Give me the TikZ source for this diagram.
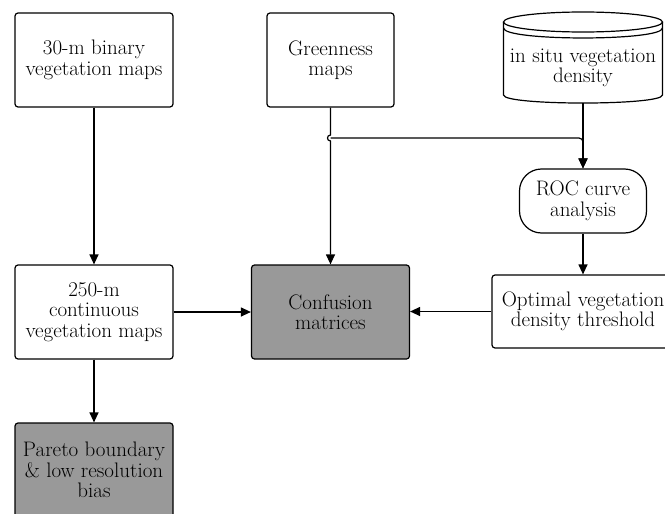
\documentclass[tikz,border=0pt]{standalone}
\usetikzlibrary{arrows.meta}
\definecolor{boxgray}{RGB}{153,153,153}
\begin{document}
\begin{tikzpicture}[x=1pt,y=-1pt,line width=1.2pt,
  txt/.style={align=center,inner sep=0pt,font=\fontsize{21}{20.5}\selectfont},
  box/.style={txt,draw,rounded corners=3pt},
  arr/.style={-{Triangle[length=10pt,width=9pt]}}]
\clip (0,0) rectangle (665,514);
% nodes
\node[box,minimum width=158pt,minimum height=94pt] (bin) at (94,60) {30-m binary\\vegetation maps};
\node[box,minimum width=127pt,minimum height=94pt] (green) at (330.5,60) {Greenness\\maps};
\node[txt] (cyl) at (583,68) {in situ vegetation\\density};
\node[box,rounded corners=22pt,minimum width=127pt,minimum height=64pt] (roc) at (583,201) {ROC curve\\analysis};
\node[box,minimum width=158pt,minimum height=94pt] (cont) at (94,312) {250-m\\continuous\\vegetation maps};
\node[box,fill=boxgray,minimum width=158pt,minimum height=94pt] (conf) at (330.5,312) {Confusion\\matrices};
\node[box,minimum width=182pt,minimum height=73pt] (opt) at (583,311.5) {Optimal vegetation\\density threshold};
\node[box,fill=boxgray,minimum width=158pt,minimum height=94pt] (pareto) at (94,470) {Pareto boundary\\\& low resolution\\bias};
% cylinder shape
\draw (583,22) ellipse [x radius=79.5, y radius=10];
\draw (503.5,22) -- (503.5,95) .. controls (503.5,105.7) and (662.5,105.7) .. (662.5,95) -- (662.5,22);
\draw (503.5,28) .. controls (503.5,41.3) and (662.5,41.3) .. (662.5,28);
\coordinate (cylb) at (583,103);
\coordinate (hopa) at (330.5,135);
\coordinate (hop) at (330.5,138);
\coordinate (hopb) at (330.5,141);
% connectors
\draw[arr] (bin) -- (cont);
\draw[arr] (cont) -- (pareto);
\draw[arr] (cont) -- (conf);
\draw[arr] (opt.west) -- (opt.west -| conf.east);
\draw[arr] (roc) -- (opt);
\draw[arr] (cylb) -- (roc.north);
\draw[arr] (green.south) -- (hopa) .. controls (326.5,135) and (326.5,141) .. (hopb) -- (conf.north);
\draw[arr,rounded corners=4pt] (hop) -- (hop -| roc.north) -- (roc.north);
\end{tikzpicture}
\end{document}
